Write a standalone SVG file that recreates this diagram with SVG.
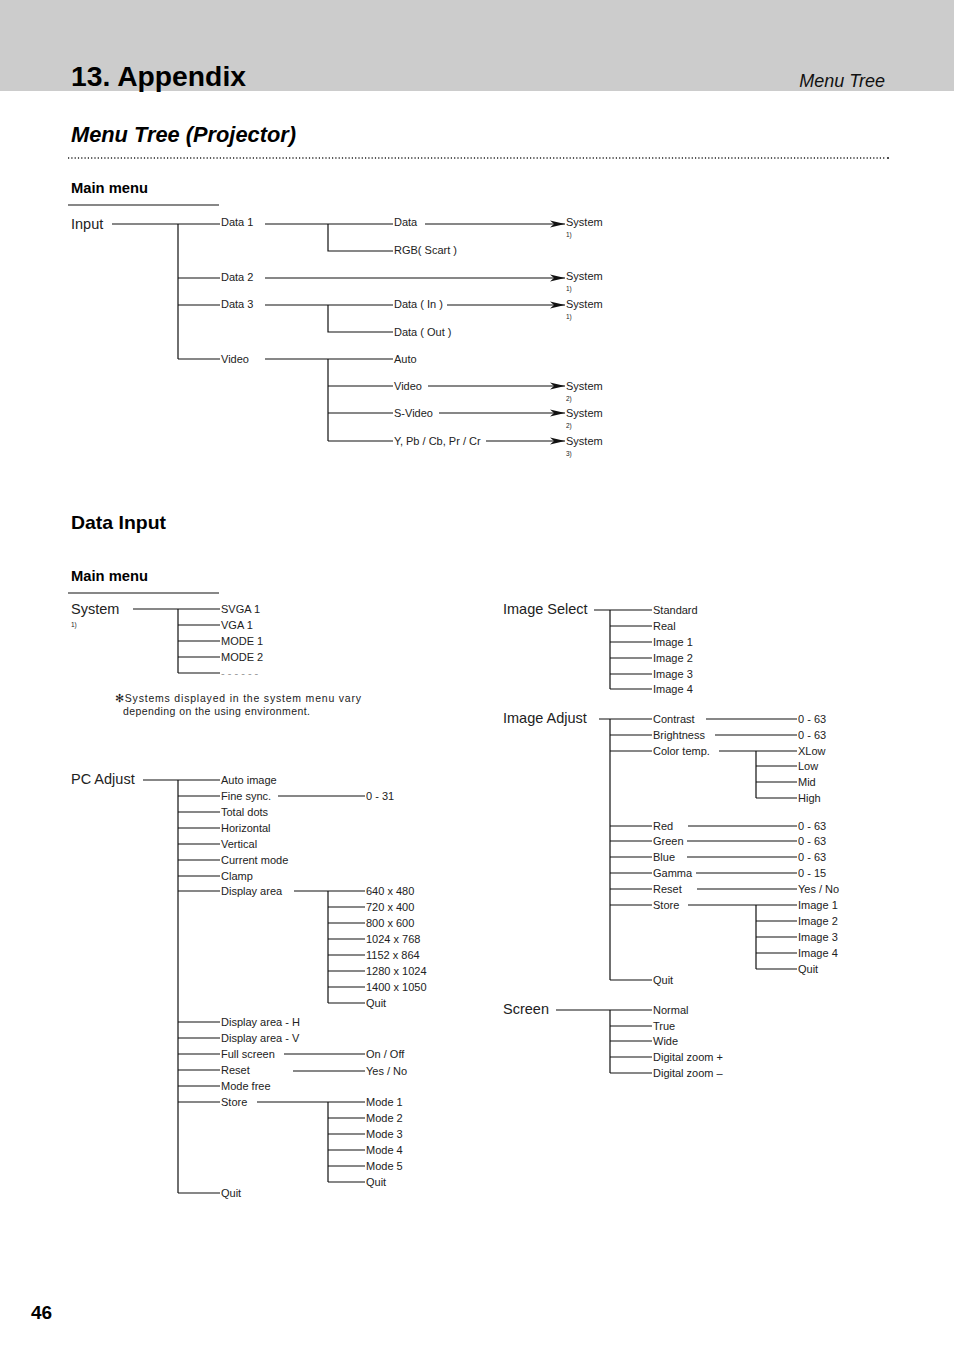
<svg xmlns="http://www.w3.org/2000/svg" width="954" height="1351" viewBox="0 0 954 1351">
<style>
text{font-family:"Liberation Sans",Arial,sans-serif;fill:#222}
.s{font-size:11px}
.b{font-size:14.5px}
.f{font-size:6.5px}
.n{font-size:10.5px}
.h{font-weight:bold;fill:#000}
#connectors path,#connectors line{stroke:#111;stroke-width:1.2;fill:none}
</style>
<defs>
<marker id="arr" markerUnits="userSpaceOnUse" markerWidth="16" markerHeight="8" refX="15" refY="4" orient="auto">
<path d="M0,0.5 L15,4 L0,7.5 L4,4 z" fill="#111"/>
</marker>
</defs>
<rect x="0" y="0" width="954" height="91" fill="#cccccc"/>
<text x="71" y="86" class="h" style="font-size:28px" textLength="175" lengthAdjust="spacingAndGlyphs">13. Appendix</text>
<text x="885" y="87" text-anchor="end" style="font-size:18px;font-style:italic;fill:#111">Menu Tree</text>
<text x="71" y="142" class="h" style="font-size:22px;font-style:italic" textLength="225" lengthAdjust="spacingAndGlyphs">Menu Tree (Projector)</text>
<line x1="68" y1="158" x2="885" y2="158" stroke="#222" stroke-width="1.4" stroke-dasharray="1.2 2.1"/>
<circle cx="888" cy="158" r="1.1" fill="#222"/>
<text x="71" y="193" class="h" style="font-size:14px" textLength="77" lengthAdjust="spacingAndGlyphs">Main menu</text>
<line x1="68" y1="205" x2="219" y2="205" stroke="#111" stroke-width="1.2"/>
<text x="71" y="529" class="h" style="font-size:19px" textLength="95" lengthAdjust="spacingAndGlyphs">Data Input</text>
<text x="71" y="581" class="h" style="font-size:14px" textLength="77" lengthAdjust="spacingAndGlyphs">Main menu</text>
<line x1="68" y1="593" x2="219" y2="593" stroke="#111" stroke-width="1.2"/>
<text x="31" y="1319" class="h" style="font-size:19px">46</text>

<g id="connectors">
<path d="M112,224 H178 V359 M178,224 H220 M178,278 H220 M178,305 H220 M178,359 H220"/>
<path d="M265,224 H393 M328,224 V251 H393"/>
<path d="M425,224 H565" marker-end="url(#arr)"/>
<path d="M265,278 H565" marker-end="url(#arr)"/>
<path d="M265,305 H393 M328,305 V332 H393"/>
<path d="M447,305 H565" marker-end="url(#arr)"/>
<path d="M265,359 H393 M328,359 V441 M328,386 H393 M328,413 H393 M328,441 H393"/>
<path d="M428,386 H565" marker-end="url(#arr)"/>
<path d="M439,413 H565" marker-end="url(#arr)"/>
<path d="M486,441 H565" marker-end="url(#arr)"/>
<path d="M133,609 H220 M178,609 V673 M178,625 H220 M178,641 H220 M178,657 H220 M178,673 H220"/>
<path d="M143,780 H220 M178,780 V1193 M178,796 H220 M178,812 H220 M178,828 H220 M178,844 H220 M178,860 H220 M178,876 H220 M178,891 H220 M178,1022 H220 M178,1038 H220 M178,1054 H220 M178,1070 H220 M178,1086 H220 M178,1102 H220 M178,1193 H220"/>
<path d="M278,796 H365"/>
<path d="M294,891 H365 M328,891 V1003 M328,907 H365 M328,923 H365 M328,939 H365 M328,955 H365 M328,971 H365 M328,987 H365 M328,1003 H365"/>
<path d="M284,1054 H365 M293,1071 H365"/>
<path d="M257,1102 H365 M328,1102 V1182 M328,1118 H365 M328,1134 H365 M328,1150 H365 M328,1166 H365 M328,1182 H365"/>
<path d="M594,610 H652 M610,610 V689 M610,626 H652 M610,642 H652 M610,658 H652 M610,674 H652 M610,689 H652"/>
<path d="M599,719 H652 M610,719 V980 M610,735 H652 M610,751 H652 M610,826 H652 M610,841 H652 M610,857 H652 M610,873 H652 M610,889 H652 M610,905 H652 M610,980 H652"/>
<path d="M706,719 H797 M715,735 H797"/>
<path d="M719,751 H797 M756,751 V798 M756,766 H797 M756,782 H797 M756,798 H797"/>
<path d="M688,826 H797 M687,841 H797 M687,857 H797 M696,873 H797 M697,889 H797"/>
<path d="M688,905 H797 M756,905 V969 M756,921 H797 M756,937 H797 M756,953 H797 M756,969 H797"/>
<path d="M556,1010 H652 M610,1010 V1073 M610,1026 H652 M610,1041 H652 M610,1057 H652 M610,1073 H652"/>
</g>

<g id="input-tree">
<text x="71" y="229" class="b">Input</text>
<text x="221" y="226" class="s">Data 1</text>
<text x="221" y="281" class="s">Data 2</text>
<text x="221" y="308" class="s">Data 3</text>
<text x="221" y="363" class="s">Video</text>
<text x="394" y="226" class="s">Data</text>
<text x="394" y="254" class="s">RGB( Scart )</text>
<text x="394" y="308" class="s">Data ( In )</text>
<text x="394" y="336" class="s">Data ( Out )</text>
<text x="394" y="363" class="s">Auto</text>
<text x="394" y="390" class="s">Video</text>
<text x="394" y="417" class="s">S-Video</text>
<text x="394" y="445" class="s">Y, Pb / Cb, Pr / Cr</text>
<text x="566" y="226" class="s">System</text><text x="566" y="237" class="f">1)</text>
<text x="566" y="280" class="s">System</text><text x="566" y="291" class="f">1)</text>
<text x="566" y="308" class="s">System</text><text x="566" y="319" class="f">1)</text>
<text x="566" y="390" class="s">System</text><text x="566" y="401" class="f">2)</text>
<text x="566" y="417" class="s">System</text><text x="566" y="428" class="f">2)</text>
<text x="566" y="445" class="s">System</text><text x="566" y="456" class="f">3)</text>
</g>

<g id="system">
<text x="71" y="614" class="b">System</text>
<text x="71" y="627" class="f">1)</text>
<text x="221" y="613" class="s">SVGA 1</text>
<text x="221" y="629" class="s">VGA 1</text>
<text x="221" y="645" class="s">MODE 1</text>
<text x="221" y="661" class="s">MODE 2</text>
<text x="221" y="677" class="s" style="fill:#999">- - - - - -</text>
<text x="115" y="702" class="n" textLength="246" lengthAdjust="spacing">✻Systems displayed in the system menu vary</text>
<text x="123" y="715" class="n" textLength="187" lengthAdjust="spacing">depending on the using environment.</text>
</g>

<g id="pc-adjust">
<text x="71" y="784" class="b">PC Adjust</text>
<text x="221" y="784" class="s">Auto image</text>
<text x="221" y="800" class="s">Fine sync.</text>
<text x="221" y="816" class="s">Total dots</text>
<text x="221" y="832" class="s">Horizontal</text>
<text x="221" y="848" class="s">Vertical</text>
<text x="221" y="864" class="s">Current mode</text>
<text x="221" y="880" class="s">Clamp</text>
<text x="221" y="895" class="s">Display area</text>
<text x="221" y="1026" class="s">Display area - H</text>
<text x="221" y="1042" class="s">Display area - V</text>
<text x="221" y="1058" class="s">Full screen</text>
<text x="221" y="1074" class="s">Reset</text>
<text x="221" y="1090" class="s">Mode free</text>
<text x="221" y="1106" class="s">Store</text>
<text x="221" y="1197" class="s">Quit</text>
<text x="366" y="800" class="s">0 - 31</text>
<text x="366" y="895" class="s">640 x 480</text>
<text x="366" y="911" class="s">720 x 400</text>
<text x="366" y="927" class="s">800 x 600</text>
<text x="366" y="943" class="s">1024 x 768</text>
<text x="366" y="959" class="s">1152 x 864</text>
<text x="366" y="975" class="s">1280 x 1024</text>
<text x="366" y="991" class="s">1400 x 1050</text>
<text x="366" y="1007" class="s">Quit</text>
<text x="366" y="1058" class="s">On / Off</text>
<text x="366" y="1075" class="s">Yes / No</text>
<text x="366" y="1106" class="s">Mode 1</text>
<text x="366" y="1122" class="s">Mode 2</text>
<text x="366" y="1138" class="s">Mode 3</text>
<text x="366" y="1154" class="s">Mode 4</text>
<text x="366" y="1170" class="s">Mode 5</text>
<text x="366" y="1186" class="s">Quit</text>
</g>

<g id="image-select">
<text x="503" y="614" class="b">Image Select</text>
<text x="653" y="614" class="s">Standard</text>
<text x="653" y="630" class="s">Real</text>
<text x="653" y="646" class="s">Image 1</text>
<text x="653" y="662" class="s">Image 2</text>
<text x="653" y="678" class="s">Image 3</text>
<text x="653" y="693" class="s">Image 4</text>
</g>

<g id="image-adjust">
<text x="503" y="723" class="b">Image Adjust</text>
<text x="653" y="723" class="s">Contrast</text>
<text x="653" y="739" class="s">Brightness</text>
<text x="653" y="755" class="s">Color temp.</text>
<text x="653" y="830" class="s">Red</text>
<text x="653" y="845" class="s">Green</text>
<text x="653" y="861" class="s">Blue</text>
<text x="653" y="877" class="s">Gamma</text>
<text x="653" y="893" class="s">Reset</text>
<text x="653" y="909" class="s">Store</text>
<text x="653" y="984" class="s">Quit</text>
<text x="798" y="723" class="s">0 - 63</text>
<text x="798" y="739" class="s">0 - 63</text>
<text x="798" y="755" class="s">XLow</text>
<text x="798" y="770" class="s">Low</text>
<text x="798" y="786" class="s">Mid</text>
<text x="798" y="802" class="s">High</text>
<text x="798" y="830" class="s">0 - 63</text>
<text x="798" y="845" class="s">0 - 63</text>
<text x="798" y="861" class="s">0 - 63</text>
<text x="798" y="877" class="s">0 - 15</text>
<text x="798" y="893" class="s">Yes / No</text>
<text x="798" y="909" class="s">Image 1</text>
<text x="798" y="925" class="s">Image 2</text>
<text x="798" y="941" class="s">Image 3</text>
<text x="798" y="957" class="s">Image 4</text>
<text x="798" y="973" class="s">Quit</text>
</g>

<g id="screen">
<text x="503" y="1014" class="b">Screen</text>
<text x="653" y="1014" class="s">Normal</text>
<text x="653" y="1030" class="s">True</text>
<text x="653" y="1045" class="s">Wide</text>
<text x="653" y="1061" class="s">Digital zoom +</text>
<text x="653" y="1077" class="s">Digital zoom –</text>
</g>
</svg>
